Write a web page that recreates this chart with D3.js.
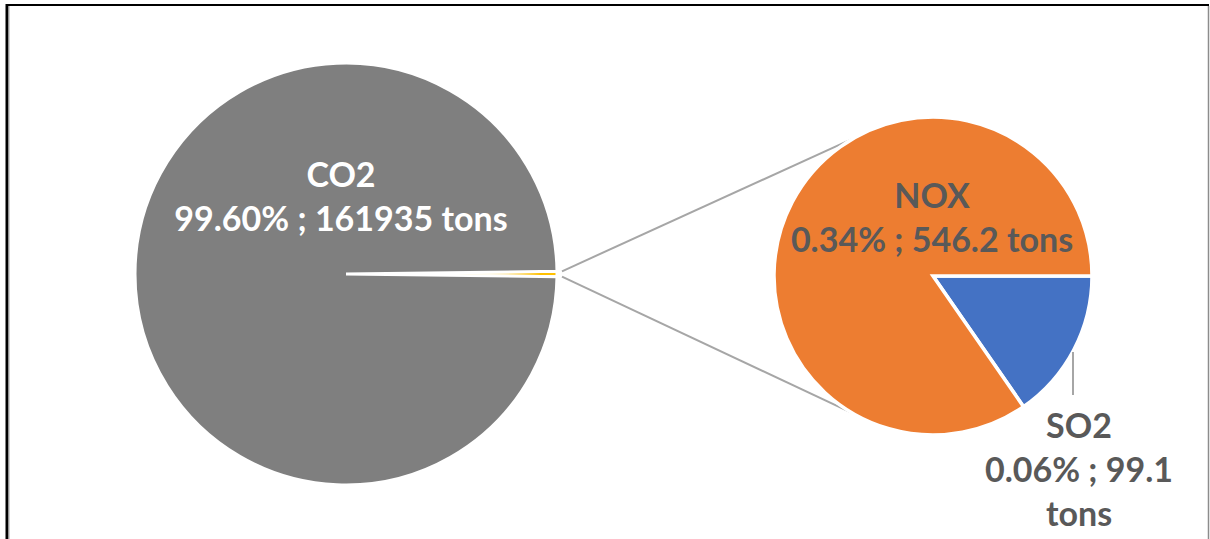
<!DOCTYPE html>
<html>
<head>
<meta charset="utf-8">
<script src="https://cdn.jsdelivr.net/npm/d3@7"></script>
<style>
  body { margin: 0; background: #fff; }
  svg { display: block; }
</style>
</head>
<body>
<svg id="chart"></svg>
<script>
let width = 1210;
let height = 539;

// data
let gases = ["CO2", "NOX", "SO2"];
let tons = [161935, 546.2, 99.1];
let colors = ["#7f7f7f", "#ed7d31", "#4472c4"];
let otherColor = "#ffc000";

let total = d3.sum(tons);
let pct = d3.format(".2%");

let svg = d3
  .select("svg#chart")
  .attr("width", width)
  .attr("height", height)
  .style("background", "#fff");

// frame
svg.append("line").attr("x1", 6).attr("x2", 1209).attr("y1", 5).attr("y2", 5)
  .attr("stroke", "#000").attr("stroke-width", 2);
svg.append("line").attr("x1", 7).attr("x2", 7).attr("y1", 4).attr("y2", height)
  .attr("stroke", "#000").attr("stroke-width", 3);
svg.append("line").attr("x1", 9).attr("x2", 9).attr("y1", 6).attr("y2", height)
  .attr("stroke", "#a6a6a6").attr("stroke-width", 1);
svg.append("line").attr("x1", 1208.5).attr("x2", 1208.5).attr("y1", 6).attr("y2", height)
  .attr("stroke", "#8c8c8c").attr("stroke-width", 1.5);

// main pie: CO2 plus the "other" slice (NOX + SO2)
let main = { cx: 346, cy: 274, r: 211 };
let small = { cx: 933, cy: 276, r: 159 };

let otherValue = tons[1] + tons[2];
let mainData = [
  { name: "other", value: otherValue, color: otherColor },
  { name: gases[0], value: tons[0], color: colors[0] },
];
let half = (otherValue / total) * Math.PI;

let mainPie = d3.pie().sort(null).value((d) => d.value)
  .startAngle(Math.PI / 2 - half).endAngle(Math.PI / 2 - half + 2 * Math.PI);
let mainArc = d3.arc().innerRadius(0).outerRadius(main.r);

// connector lines
let gOther = mainPie(mainData)[0];
let connectors = [
  [d3.pointRadial(gOther.startAngle, main.r + 5), -120],
  [d3.pointRadial(gOther.endAngle, main.r + 5), 120],
];
svg.append("g")
  .selectAll("line")
  .data(connectors)
  .join("line")
  .attr("x1", (d) => main.cx + d[0][0])
  .attr("y1", (d) => main.cy + d[0][1])
  .attr("x2", (d) => small.cx + small.r * Math.cos((d[1] * Math.PI) / 180))
  .attr("y2", (d) => small.cy + small.r * Math.sin((d[1] * Math.PI) / 180))
  .attr("stroke", "#a6a6a6")
  .attr("stroke-width", 2);

svg.append("g")
  .attr("transform", `translate(${main.cx}, ${main.cy})`)
  .selectAll("path")
  .data(mainPie(mainData))
  .join("path")
  .attr("d", mainArc)
  .attr("fill", (d) => d.data.color)
  .attr("stroke", "#fff")
  .attr("stroke-width", 3);

// second pie: SO2 then NOX, starting at 3 o'clock
let smallData = [
  { name: gases[2], value: tons[2], color: colors[2] },
  { name: gases[1], value: tons[1], color: colors[1] },
];
let smallPie = d3.pie().sort(null).value((d) => d.value)
  .startAngle(Math.PI / 2).endAngle(Math.PI / 2 + 2 * Math.PI);
let smallArc = d3.arc().innerRadius(0).outerRadius(small.r);

svg.append("g")
  .attr("transform", `translate(${small.cx}, ${small.cy})`)
  .selectAll("path")
  .data(smallPie(smallData))
  .join("path")
  .attr("d", smallArc)
  .attr("fill", (d) => d.data.color)
  .attr("stroke", "#fff")
  .attr("stroke-width", 3.5);

// SO2 leader line
svg.append("line")
  .attr("x1", 1073).attr("x2", 1073).attr("y1", 352).attr("y2", 395)
  .attr("stroke", "#a6a6a6").attr("stroke-width", 2);

// labels
let labels = [
  { lines: [gases[0], `${pct(tons[0] / total)} ; ${tons[0]} tons`], x: 341, y: 187, fill: "#fff" },
  { lines: [gases[1], `${pct(tons[1] / total)} ; ${tons[1]} tons`], x: 932, y: 208, fill: "#595959" },
  { lines: [gases[2], `${pct(tons[2] / total)} ; ${tons[2]}`, "tons"], x: 1079, y: 438, fill: "#595959" },
];

labels.forEach((l) => {
  svg.append("text")
    .attr("x", l.x)
    .attr("y", l.y)
    .attr("text-anchor", "middle")
    .attr("fill", l.fill)
    .style("font-family", "Lato, 'Open Sans', sans-serif")
    .style("font-weight", "bold")
    .style("font-size", "34px")
    .selectAll("tspan")
    .data(l.lines)
    .join("tspan")
    .attr("x", l.x)
    .attr("dy", (d, i) => (i === 0 ? 0 : 44))
    .text((d) => d);
});
</script>
</body>
</html>
